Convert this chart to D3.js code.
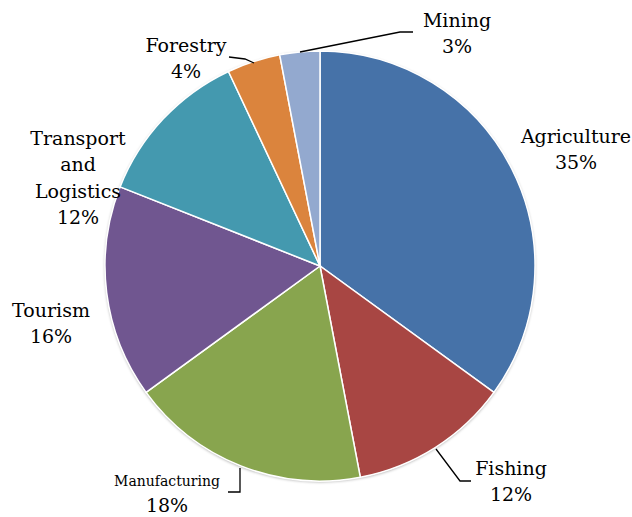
<!DOCTYPE html>
<html>
<head>
<meta charset="utf-8">
<script src="https://cdn.jsdelivr.net/npm/d3@7"></script>
<style>
  body { margin: 0; background: #fff; }
</style>
</head>
<body>
<div id="chart"></div>
<script>
var width = 632,
    height = 517;

// sectors, clockwise from 12 o'clock
var sectors = ["Agriculture", "Fishing", "Manufacturing", "Tourism", "Transport and Logistics", "Forestry", "Mining"];
var shares = [35, 12, 18, 16, 12, 4, 3];
var colors = ["#4672A8", "#A84643", "#88A54E", "#705690", "#4499AF", "#DB843D", "#93A9CF"];

// label lines and anchors (page coords)
var labelLines = [
  ["Agriculture", "35%"],
  ["Fishing", "12%"],
  ["Manufacturing", "18%"],
  ["Tourism", "16%"],
  ["Transport", "and", "Logistics", "12%"],
  ["Forestry", "4%"],
  ["Mining", "3%"]
];
var labelPos = [[576, 136], [511, 468], [167, 481], [51, 310], [78, 138], [186, 45], [457, 20]];

var cx = 320, cy = 266, radius = 215;
var serif = "'DejaVu Serif', serif";

var svg = d3.select("#chart").append("svg")
    .attr("width", width)
    .attr("height", height);

var defs = svg.append("defs");
var f = defs.append("filter").attr("id", "shadow").attr("x", "-10%").attr("y", "-10%").attr("width", "120%").attr("height", "120%");
f.append("feDropShadow").attr("dx", 0).attr("dy", 1).attr("stdDeviation", 1.5).attr("flood-opacity", 0.35);

var pie = d3.pie().sort(null).value(function(d) { return d; });
var arc = d3.arc().innerRadius(0).outerRadius(radius);

var g = svg.append("g").attr("transform", "translate(" + cx + "," + cy + ")");

g.append("circle").attr("r", radius).attr("fill", "#fff").attr("filter", "url(#shadow)");

g.selectAll("path.slice")
  .data(pie(shares))
  .enter()
  .append("path")
    .attr("class", "slice")
    .attr("d", arc)
    .attr("fill", function(d, i) { return colors[i]; })
    .attr("stroke", "#fff")
    .attr("stroke-width", 1.5);

// leader lines
var leaders = [
  [[436, 449], [460, 481], [471, 481]],
  [[240, 468], [240, 492], [228, 492]],
  [[254, 63], [245, 59], [229, 57]],
  [[300, 52], [400, 32], [413, 32]]
];
svg.selectAll("path.leader")
  .data(leaders)
  .enter()
  .append("path")
    .attr("class", "leader")
    .attr("d", d3.line())
    .attr("fill", "none")
    .attr("stroke", "#000")
    .attr("stroke-width", 1.3);

// labels
var lab = svg.selectAll("text.lab")
  .data(labelLines)
  .enter()
  .append("text")
    .attr("class", "lab")
    .attr("text-anchor", "middle")
    .attr("font-family", serif)
    .attr("font-size", 19)
    .attr("fill", "#000")
    .attr("x", function(d, i) { return labelPos[i][0]; })
    .attr("y", function(d, i) { return labelPos[i][1]; });

lab.selectAll("tspan")
  .data(function(d, i) { return d.map(function(t, j) { return { t: t, j: j, i: i, x: labelPos[i][0] }; }); })
  .enter()
  .append("tspan")
    .attr("x", function(d) { return d.x; })
    .attr("dy", function(d) { return d.j === 0 ? "0.35em" : "26.5"; })
    .attr("font-size", function(d) { return (d.i === 2 && d.j === 0) ? 14 : null; })
    .text(function(d) { return d.t; });
</script>
</body>
</html>
